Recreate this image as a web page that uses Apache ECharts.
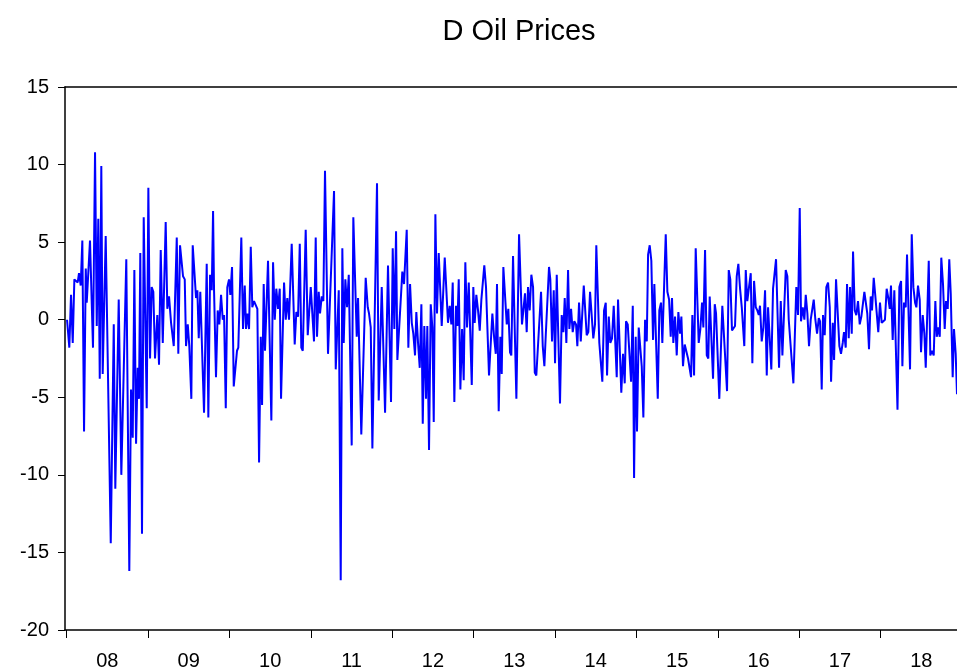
<!DOCTYPE html>
<html>
<head>
<meta charset="utf-8">
<script src="https://cdn.jsdelivr.net/npm/echarts@6/dist/echarts.min.js"></script>
<style>
html,body{margin:0;padding:0;background:#fff;}
#chart{width:957px;height:669px;}
</style>
</head>
<body>
<div id="chart"></div>
<script>
// Observation dates (decimal years) and weekly changes in oil prices
const dates = [
2008.005,2008.033,2008.054,2008.075,2008.095,2008.115,2008.136,2008.152,2008.173,2008.193,2008.214,2008.235,2008.247,2008.287,2008.324,2008.349,2008.370,2008.389,2008.407,2008.426,2008.443,2008.480,2008.542,2008.579,2008.598,2008.640,2008.672,2008.733,2008.770,2008.791,2008.812,2008.832,2008.853,2008.873,
2008.889,2008.905,2008.926,2008.947,2008.984,2009.004,2009.025,2009.045,2009.065,2009.086,2009.114,2009.135,2009.156,2009.181,2009.217,2009.237,2009.258,2009.283,2009.316,2009.353,2009.372,2009.393,2009.409,2009.430,2009.451,2009.467,2009.488,2009.507,2009.532,2009.549,2009.569,2009.590,2009.606,2009.623,2009.642,2009.688,2009.721,2009.741,2009.762,2009.783,2009.799,
2009.811,2009.835,2009.856,2009.876,2009.897,2009.918,2009.934,2009.955,2009.974,2009.995,2010.011,2010.032,2010.053,2010.072,2010.093,2010.109,2010.146,2010.167,2010.188,2010.204,2010.220,2010.241,2010.262,2010.281,2010.302,2010.323,2010.343,2010.364,2010.385,2010.401,2010.421,2010.437,2010.474,2010.515,2010.536,2010.557,2010.576,2010.597,2010.618,2010.634,2010.671,2010.692,2010.711,2010.732,
2010.765,2010.802,2010.822,2010.843,2010.864,2010.883,2010.901,2010.937,2010.962,2010.999,2011.039,2011.060,2011.076,2011.097,2011.113,2011.134,2011.154,2011.174,2011.211,2011.285,2011.306,2011.343,2011.367,2011.387,2011.404,2011.424,2011.445,2011.466,2011.502,2011.522,2011.543,2011.564,2011.580,2011.620,2011.674,
2011.699,2011.715,2011.736,2011.756,2011.813,2011.834,2011.871,2011.891,2011.912,2011.948,2011.985,2012.006,2012.026,2012.047,2012.063,2012.124,2012.145,2012.161,2012.178,2012.198,2012.219,2012.240,2012.259,2012.280,2012.296,2012.317,2012.338,2012.358,2012.375,2012.394,2012.415,2012.431,2012.452,2012.473,2012.493,2012.510,2012.530,2012.550,2012.571,2012.591,
2012.608,2012.645,2012.685,2012.706,2012.726,2012.743,2012.763,2012.784,2012.800,2012.817,2012.837,2012.858,2012.878,2012.898,2012.919,2012.940,2012.977,2012.996,2013.013,2013.033,2013.054,2013.075,2013.095,2013.112,2013.131,2013.152,2013.189,2013.210,2013.230,2013.251,2013.272,2013.287,2013.308,2013.328,2013.345,2013.365,2013.407,2013.426,2013.447,2013.463,2013.484,2013.525,
2013.558,2013.594,2013.615,2013.631,2013.652,2013.668,2013.689,2013.709,2013.730,2013.751,2013.770,2013.828,2013.849,2013.869,2013.886,2013.905,2013.926,2013.942,2013.963,2013.984,2014.000,2014.021,2014.061,2014.082,2014.102,2014.119,2014.139,2014.160,2014.176,2014.197,2014.217,2014.237,2014.258,2014.274,2014.295,2014.316,2014.353,2014.389,2014.409,2014.430,2014.470,
2014.491,2014.507,2014.544,2014.581,2014.602,2014.623,2014.639,2014.660,2014.679,2014.700,2014.721,2014.758,2014.774,2014.814,2014.835,2014.856,2014.872,2014.893,2014.934,2014.955,2014.971,2014.991,2015.007,2015.028,2015.065,2015.085,2015.106,2015.127,2015.143,2015.163,2015.183,2015.204,2015.220,2015.262,2015.281,2015.302,2015.318,2015.360,2015.380,2015.401,
2015.421,2015.437,2015.453,2015.474,2015.495,2015.515,2015.536,2015.552,2015.572,2015.593,2015.613,2015.634,2015.650,2015.671,2015.687,2015.708,2015.728,2015.765,2015.785,2015.806,2015.822,2015.843,2015.864,2015.883,2015.900,2015.941,2015.962,2015.978,2016.018,2016.055,2016.076,2016.113,2016.134,2016.153,2016.174,2016.195,2016.211,2016.232,2016.252,2016.273,2016.294,2016.325,2016.343,
2016.362,2016.383,2016.404,2016.424,2016.445,2016.466,2016.485,2016.503,2016.518,2016.539,2016.559,2016.580,2016.601,2016.617,2016.657,2016.678,2016.715,2016.752,2016.773,2016.793,2016.834,2016.854,2016.871,2016.891,2016.928,2016.964,2016.985,2017.006,2017.022,2017.043,2017.063,2017.080,2017.100,2017.120,2017.141,2017.161,2017.178,2017.198,2017.219,2017.240,2017.256,2017.276,
2017.292,2017.313,2017.333,2017.354,2017.375,2017.391,2017.412,2017.428,2017.452,2017.473,2017.493,2017.513,2017.534,2017.550,2017.571,2017.587,2017.608,2017.624,2017.645,2017.661,2017.682,2017.701,2017.722,2017.743,2017.763,2017.800,2017.836,2017.857,2017.878,2017.894,2017.915,2017.935,2017.952,2017.971,2017.992,2018.013,2018.032,2018.053,2018.074,2018.094,2018.112,2018.127,2018.148,2018.168,2018.207,
2018.230,2018.251,2018.267,2018.287,2018.308,2018.324,2018.345,2018.361,2018.382,2018.402,2018.423,2018.439,2018.459,2018.480,2018.496,2018.517,2018.537,2018.554,2018.591,2018.610,2018.631,2018.652,2018.672,2018.689,2018.708,2018.726,2018.745,2018.766,2018.787,2018.803,2018.824,2018.843,2018.861,2018.885,2018.901,2018.922,2018.938
];
const values = [
0.0,-1.8,1.6,-1.5,2.6,2.6,2.4,3.0,2.2,5.1,-7.2,3.3,1.1,5.1,-1.8,10.8,-0.4,6.5,-3.8,9.9,-3.5,5.4,-14.4,-0.3,-10.9,1.3,-10.0,3.9,-16.2,-4.5,-7.6,3.2,-8.0,-3.1,
-5.1,4.3,-13.8,6.6,-5.7,8.5,-2.5,2.1,1.8,-2.5,0.3,-2.9,4.5,-1.5,6.3,0.7,1.5,-0.2,-1.7,5.3,-2.2,4.8,4.7,2.8,2.6,-1.7,-0.3,-1.7,-5.1,4.8,4.9,1.4,1.9,-1.2,1.8,-6.0,3.6,-6.3,2.9,1.9,7.0,
1.9,-3.7,0.6,-0.3,1.6,0.0,0.3,-5.7,2.1,2.6,1.6,3.4,-4.3,-4.3,-2.0,-1.8,5.3,-0.6,2.2,-0.6,0.4,-0.6,4.7,0.8,1.2,1.2,0.7,-9.2,-1.1,-5.5,2.3,-2.0,3.8,-6.5,3.7,0.0,2.0,0.7,2.0,-5.1,2.4,0.0,1.4,0.0,
4.9,-1.6,0.5,0.2,4.9,-1.8,-2.0,5.8,-1.0,2.1,-1.4,5.3,-1.1,1.8,0.4,1.5,1.2,9.6,-2.2,8.3,-3.2,1.9,-16.8,4.6,-1.5,2.6,0.8,2.9,-8.1,6.6,6.6,-1.1,1.4,-7.4,2.7,
0.8,0.4,-0.5,-8.3,8.8,-5.2,2.1,2.2,-6.0,3.5,-5.3,4.6,-0.6,5.7,-2.6,3.1,2.3,2.3,5.8,-1.8,2.3,-0.2,-0.9,-2.3,0.5,-1.5,-3.1,1.0,-6.7,-0.4,-5.1,-0.4,-8.4,1.0,-0.5,-6.6,6.8,0.4,4.3,4.4,
-0.4,4.0,-0.2,0.9,-0.3,2.4,-5.3,0.9,-0.4,2.6,-4.5,-0.6,-3.9,3.7,-0.5,2.4,-4.2,2.1,-0.2,1.6,0.6,-0.7,1.3,1.4,3.5,2.1,-3.6,-3.7,0.4,-1.1,-2.2,2.3,-5.9,-1.1,-3.5,3.4,-0.3,0.7,-2.1,-2.3,4.1,-5.1,
5.5,-0.3,-0.3,1.7,-0.8,2.1,0.6,2.9,2.1,-3.4,-3.6,1.8,-1.7,-3.0,-1.0,-0.9,3.4,2.6,-1.4,1.9,-2.8,2.9,-5.4,0.3,-0.8,1.4,-1.5,3.2,-0.6,0.7,-0.8,-0.1,-0.3,-1.7,1.1,-1.4,2.2,-1.0,-0.8,1.8,-1.2,
-0.3,4.8,-1.5,-4.0,0.6,1.1,-3.6,0.2,-1.5,-1.2,0.9,-3.7,1.3,-4.7,-2.2,-4.1,-0.1,-0.3,-4.0,0.9,-10.2,-1.1,-7.2,-0.5,-3.0,-6.3,0.0,-1.4,4.2,4.8,3.8,-1.3,2.3,-5.1,0.6,1.1,-1.5,5.5,1.8,1.3,
-1.1,1.4,-1.5,0.2,-2.3,0.5,-0.9,0.2,-3.0,-1.6,-1.7,-2.5,-2.5,-3.7,0.3,-3.6,4.6,-1.5,-0.6,1.1,-0.5,4.5,-2.3,-2.5,1.5,-3.8,1.0,0.4,-5.1,0.9,-1.1,-4.6,3.2,2.6,-0.7,-0.7,-0.4,2.8,3.6,2.0,0.8,-1.7,3.2,
1.2,2.1,3.0,-2.8,2.5,0.8,0.6,0.3,0.9,-1.4,-0.5,1.9,-3.6,0.8,-3.2,2.0,3.9,-3.1,1.2,-2.3,3.2,2.8,0.0,-0.1,-4.1,2.1,0.3,7.2,-0.1,0.8,0.0,1.6,0.4,-1.7,0.0,0.0,1.3,0.0,-0.9,0.1,-0.1,-4.5,
0.3,-1.0,2.1,2.4,0.8,-4.0,-0.2,-2.6,2.6,2.7,-1.7,-2.2,-1.5,-0.8,-1.8,2.3,-1.2,2.1,-0.9,4.4,0.6,0.3,1.2,-0.3,0.2,1.8,0.4,-1.9,1.5,0.6,2.7,1.5,1.4,-0.8,1.1,-0.2,-0.3,0.0,2.0,1.4,0.7,2.2,-1.3,1.9,-5.8,
2.1,2.5,-3.0,1.1,0.8,4.2,0.0,-3.2,5.5,2.1,1.1,0.8,2.2,1.3,-2.1,0.3,-0.9,-3.1,3.8,-2.3,-2.0,-2.3,1.2,-1.1,-0.5,-1.1,4.0,2.3,-0.6,1.2,0.7,3.9,1.7,-3.7,-0.6,-2.2,-4.8
];
const yearTicks = [2008,2009,2010,2011,2012,2013,2014,2015,2016,2017,2018];
const yearLabelPos = [2008.5,2009.5,2010.5,2011.5,2012.5,2013.5,2014.5,2015.5,2016.5,2017.5,2018.5];
const yTicks = [15,10,5,0,-5,-10,-15,-20];
const xMin = 2007.98, xMax = 2018.938;

const seriesData = dates.map((d, i) => [d, values[i]]);
const chart = echarts.init(document.getElementById('chart'), null, {renderer: 'canvas'});
const font = '"Liberation Sans", Arial, sans-serif';
chart.setOption({
  animation: false,
  backgroundColor: '#fff',
  title: {
    text: 'D Oil Prices',
    left: 519, top: 17, padding: 0,
    textAlign: 'center',
    textStyle: {fontFamily: font, fontSize: 29, fontWeight: 'normal', color: '#000'}
  },
  grid: {left: 65, right: 0, top: 87, bottom: 39, containLabel: false, outerBoundsMode: 'none'},
  xAxis: [{
    type: 'value', min: xMin, max: xMax,
    axisLine: {show: true, onZero: false, lineStyle: {color: '#000', width: 1.5}},
    axisTick: {show: true, inside: false, length: 8, customValues: yearTicks, lineStyle: {color: '#000', width: 1}},
    axisLabel: {show: true, customValues: yearLabelPos, margin: 21,
      formatter: v => String(Math.floor(v)).slice(2),
      fontFamily: font, fontSize: 20, color: '#000'},
    splitLine: {show: false}
  }, {
    type: 'value', min: xMin, max: xMax, position: 'top',
    axisLine: {show: true, onZero: false, lineStyle: {color: '#000', width: 1.5}},
    axisTick: {show: false}, axisLabel: {show: false}, splitLine: {show: false}
  }],
  yAxis: {
    type: 'value', min: -20, max: 15, interval: 5,
    axisLine: {show: true, onZero: false, lineStyle: {color: '#000', width: 1.5}},
    axisTick: {show: true, inside: false, length: 7, lineStyle: {color: '#000', width: 1}},
    axisLabel: {margin: 16, fontFamily: font, fontSize: 20, color: '#000',
      customValues: yTicks},
    splitLine: {show: false}
  },
  series: [{
    type: 'line', xAxisIndex: 0, data: seriesData,
    showSymbol: false, symbol: 'none',
    lineStyle: {color: '#0000FF', width: 2},
    clip: true
  }]
});
</script>
</body>
</html>
